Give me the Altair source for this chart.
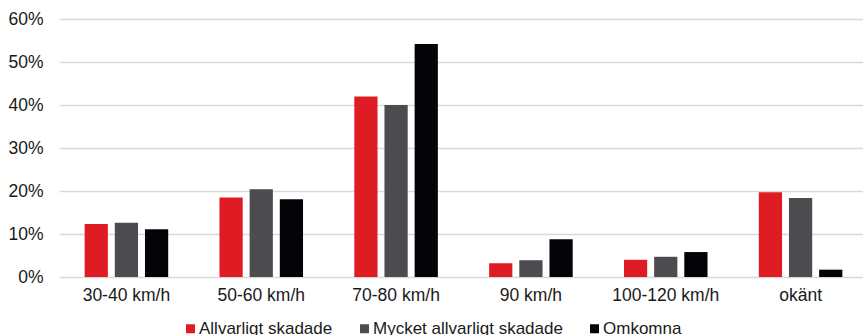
import altair as alt
import pandas as pd

# Speed limit categories and the share of each injury class (%)
categories = ["30-40 km/h", "50-60 km/h", "70-80 km/h", "90 km/h", "100-120 km/h", "okänt"]
series = ["Allvarligt skadade", "Mycket allvarligt skadade", "Omkomna"]
allvarligt = [12.3, 18.5, 42.0, 3.2, 4.0, 19.7]
mycket_allvarligt = [12.6, 20.4, 40.0, 3.9, 4.7, 18.4]
omkomna = [11.1, 18.1, 54.2, 8.8, 5.8, 1.7]
colors = ["#DF1C24", "#4B4B50", "#030408"]

rows = []
for name, vals in zip(series, [allvarligt, mycket_allvarligt, omkomna]):
    for cat, v in zip(categories, vals):
        rows.append({"kategori": cat, "grupp": name, "andel": v / 100})
df = pd.DataFrame(rows)

FONT = "Liberation Sans"

chart = (
    alt.Chart(df)
    .mark_bar()
    .encode(
        x=alt.X(
            "kategori:N",
            sort=categories,
            title=None,
            scale=alt.Scale(range=[0, 809], paddingInner=0, paddingOuter=0),
            axis=alt.Axis(
                labelAngle=0,
                labelFontSize=17.5,
                labelColor="#1a1a1a",
                labelPadding=9,
                ticks=False,
                domain=False,
                grid=False,
            ),
        ),
        xOffset=alt.XOffset(
            "grupp:N",
            sort=series,
            scale=alt.Scale(paddingInner=0.23, paddingOuter=0.85),
        ),
        y=alt.Y(
            "andel:Q",
            title=None,
            scale=alt.Scale(domain=[0, 0.6], nice=False),
            axis=alt.Axis(
                format=".0%",
                values=[0, 0.1, 0.2, 0.3, 0.4, 0.5, 0.6],
                labelFontSize=17.5,
                labelColor="#1a1a1a",
                labelPadding=16,
                ticks=False,
                domain=False,
                gridColor="#d9d9d9",
                gridWidth=1.5,
            ),
        ),
        color=alt.Color(
            "grupp:N",
            sort=series,
            scale=alt.Scale(domain=series, range=colors),
            legend=alt.Legend(
                title=None,
                orient="none",
                direction="horizontal",
                legendX=123,
                legendY=301,
                symbolType="square",
                symbolSize=81,
                symbolStrokeWidth=0,
                labelFontSize=17,
                labelColor="#1a1a1a",
                labelOffset=0,
                labelLimit=400,
                columnPadding=23,
                padding=0,
            ),
        ),
    )
    .properties(
        width=804,
        height=258,
        autosize=alt.AutoSizeParams(type="none"),
        padding={"left": 59, "top": 19, "right": 0, "bottom": 58},
    )
    .configure(font=FONT)
    .configure_view(stroke=None)
)

chart.save("out.html", embed_options={"renderer": "svg", "actions": False})
